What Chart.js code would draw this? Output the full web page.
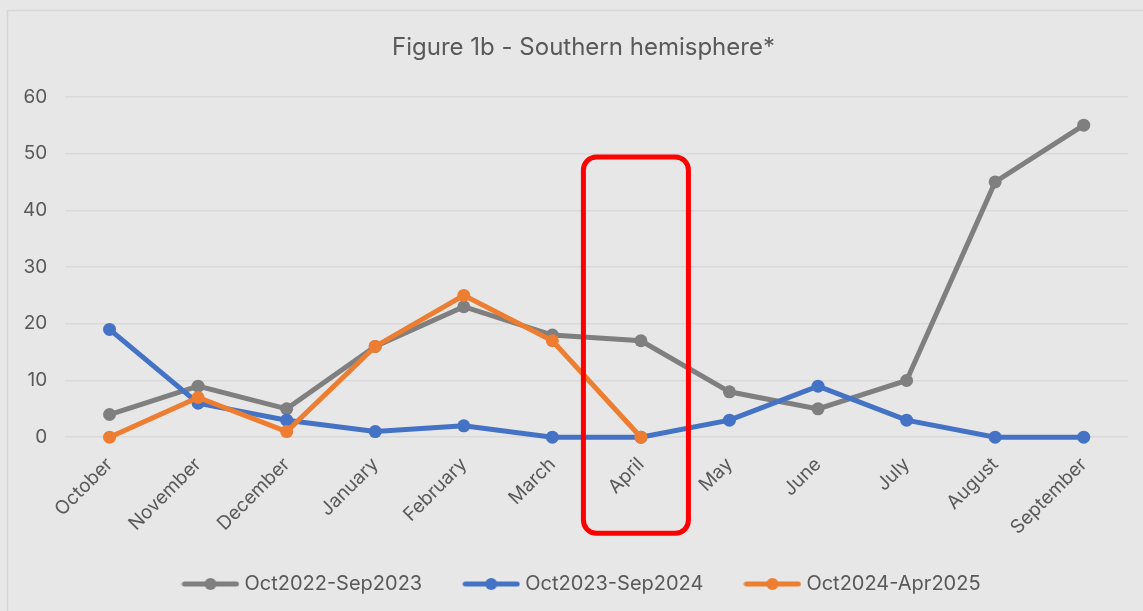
<!DOCTYPE html>
<html>
<head>
<meta charset="utf-8">
<script src="https://cdn.jsdelivr.net/npm/chart.js@4/dist/chart.umd.min.js"></script>
<style>
html,body{margin:0;padding:0;background:#e7e7e7;}
canvas{display:block;}
</style>
</head>
<body>
<canvas id="c" width="1143" height="611"></canvas>
<script>
const months = ["October","November","December","January","February","March","April","May","June","July","August","September"];
const oct22Sep23 = [4, 9, 5, 16, 23, 18, 17, 8, 5, 10, 45, 55];
const oct23Sep24 = [19, 6, 3, 1, 2, 0, 0, 3, 9, 3, 0, 0];
const oct24Apr25 = [0, 7, 1, 16, 25, 17, 0];
const yTicks = [0, 10, 20, 30, 40, 50, 60];
const highlightMonth = "April";

const FONT = "Inter, 'Open Sans', 'Liberation Sans', sans-serif";
const TXT = "#595959";

function legendIcon(color){
  const cv = document.createElement('canvas');
  cv.width = 58; cv.height = 14;
  const g = cv.getContext('2d');
  g.strokeStyle = color; g.lineWidth = 5; g.lineCap = 'round';
  g.beginPath(); g.moveTo(3,7); g.lineTo(55,7); g.stroke();
  g.fillStyle = color; g.beginPath(); g.arc(29,7,6,0,Math.PI*2); g.fill();
  return cv;
}

const bgPlugin = {
  id: 'bg',
  afterLayout(chart){
    // let rotated x labels draw into the free space above the legend items
    chart.scales.x.bottom += 40;
    // centre title and legend on the wider chart frame
    const shift = 34;
    if (chart.titleBlock) chart.titleBlock.left += shift;
    if (chart.legend) chart.legend.left += shift;
  },
  beforeDraw(chart){
    const ctx = chart.ctx;
    ctx.save();
    ctx.fillStyle = '#e7e7e7';
    ctx.fillRect(0,0,chart.width,chart.height);
    ctx.strokeStyle = '#d6d6d6';
    ctx.lineWidth = 1.5;
    ctx.strokeRect(7.5,10.5,chart.width+20,chart.height+20);
    ctx.restore();
  }
};

const boxPlugin = {
  id: 'highlightBox',
  afterDraw(chart){
    const xs = chart.scales.x, ys = chart.scales.y;
    const idx = months.indexOf(highlightMonth);
    const cx = xs.getPixelForValue(idx) - 5;
    const half = 52.5;
    const top = ys.getPixelForValue(50) + 3.5;
    const bottom = ys.getPixelForValue(0) + 96;
    const ctx = chart.ctx;
    ctx.save();
    ctx.strokeStyle = '#ff0000';
    ctx.lineWidth = 5;
    ctx.beginPath();
    ctx.roundRect(cx - half, top, half*2, bottom - top, 13);
    ctx.stroke();
    ctx.restore();
  }
};

const colors = ['#7f7f7f', '#4472c4', '#ed7d31'];
const names = ['Oct2022-Sep2023', 'Oct2023-Sep2024', 'Oct2024-Apr2025'];
const series = [oct22Sep23, oct23Sep24, oct24Apr25];

new Chart(document.getElementById('c'), {
  type: 'line',
  data: {
    labels: months,
    datasets: series.map((d,i)=>({
      label: names[i],
      data: d,
      order: 3 - i,
      clip: false,
      borderColor: colors[i],
      backgroundColor: colors[i],
      borderWidth: 5,
      pointRadius: 6.5,
      pointHoverRadius: 6.5,
      pointBackgroundColor: colors[i],
      pointBorderWidth: 0,
      tension: 0,
      fill: false
    }))
  },
  options: {
    responsive: false,
    animation: false,
    layout: { padding: { left: 5, right: 15, top: 22, bottom: 7 } },
    plugins: {
      title: {
        display: true,
        text: 'Figure 1b - Southern hemisphere*',
        color: TXT,
        font: { family: FONT, size: 24, weight: 'normal' },
        padding: { top: 11, bottom: 35 }
      },
      legend: {
        position: 'bottom',
        labels: {
          color: TXT,
          font: { family: FONT, size: 20 },
          usePointStyle: true,
          pointStyleWidth: 48,
          padding: 45,
          generateLabels(chart){
            return chart.data.datasets.map((ds,i)=>({
              text: ds.label,
              fillStyle: ds.borderColor,
              strokeStyle: ds.borderColor,
              fontColor: TXT,
              pointStyle: legendIcon(ds.borderColor),
              datasetIndex: i,
              hidden: false,
              lineWidth: 0
            }));
          }
        }
      },
      tooltip: { enabled: false }
    },
    scales: {
      x: {
        offset: true,
        grid: { display: false, drawTicks: false },
        border: { display: false },
        afterFit(scale){ scale.height -= 26; scale.paddingLeft = 0; scale.paddingRight = 0; },
        ticks: {
          color: TXT,
          font: { family: FONT, size: 19 },
          maxRotation: 45,
          minRotation: 45,
          padding: 16,
          autoSkip: false
        }
      },
      y: {
        min: 0,
        max: 60,
        afterBuildTicks(axis){ axis.ticks = yTicks.map(v=>({value:v})); },
        grid: { color: '#d9d9d9', lineWidth: 1.5, drawTicks: false },
        border: { display: false },
        ticks: {
          color: TXT,
          font: { family: FONT, size: 19 },
          padding: 18
        }
      }
    }
  },
  plugins: [bgPlugin, boxPlugin]
});
</script>
</body>
</html>
